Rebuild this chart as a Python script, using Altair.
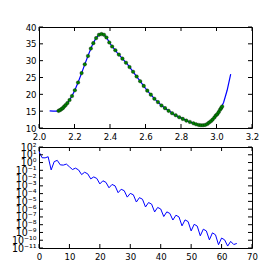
import altair as alt
import pandas as pd

# ---- top panel data ----
line_x = [2.06, 2.08, 2.10, 2.12, 2.14, 2.16, 2.18, 2.20, 2.22, 2.24, 2.26, 2.28, 2.30,
          2.32, 2.34, 2.36, 2.38, 2.40, 2.42, 2.44, 2.46, 2.48, 2.50, 2.52, 2.54, 2.56,
          2.58, 2.60, 2.62, 2.64, 2.66, 2.68, 2.70, 2.72, 2.74, 2.76, 2.78, 2.80, 2.82,
          2.84, 2.86, 2.88, 2.90, 2.92, 2.94, 2.96, 2.98, 3.00, 3.02, 3.04, 3.06, 3.08]
line_y = [15.1, 15.0, 15.0, 15.4, 16.2, 17.4, 19.0, 21.0, 23.5, 26.3, 29.2, 32.0, 34.6,
          36.6, 37.8, 37.9, 36.9, 35.1, 33.7, 32.4, 31.2, 30.0, 28.8, 27.4, 26.0, 24.6,
          23.2, 21.8, 20.5, 19.3, 18.2, 17.2, 16.3, 15.5, 14.8, 14.1, 13.5, 13.0, 12.5,
          12.0, 11.6, 11.2, 10.9, 10.8, 11.0, 11.6, 12.6, 13.9, 15.4, 17.6, 21.2, 26.0]

pts_x = [2.110, 2.118, 2.126, 2.134, 2.142, 2.150, 2.160, 2.172, 2.186, 2.202, 2.220,
         2.240, 2.258, 2.276, 2.292, 2.306, 2.322, 2.338, 2.352, 2.366, 2.380, 2.396,
         2.412, 2.430, 2.450, 2.470, 2.490, 2.510, 2.530, 2.550, 2.570, 2.590, 2.610,
         2.630, 2.650, 2.670, 2.690, 2.710, 2.730, 2.750, 2.770, 2.790, 2.810, 2.830,
         2.850, 2.870, 2.885, 2.900, 2.912, 2.924, 2.936, 2.948, 2.958, 2.968, 2.978,
         2.988, 2.996, 3.004, 3.012, 3.020, 3.026, 3.032]
pts_y = [15.1, 15.3, 15.6, 15.9, 16.4, 16.8, 17.4, 18.3, 19.5, 21.2, 23.5,
         26.3, 28.9, 31.4, 33.6, 35.2, 36.7, 37.7, 37.9, 37.7, 36.9, 35.4,
         34.2, 33.1, 31.8, 30.6, 29.4, 28.1, 26.7, 25.3, 23.9, 22.5, 21.1,
         19.9, 18.7, 17.7, 16.7, 15.9, 15.1, 14.4, 13.8, 13.2, 12.7, 12.2,
         11.8, 11.4, 11.1, 10.9, 10.8, 10.8, 10.9, 11.2, 11.6, 12.0, 12.5,
         13.1, 13.7, 14.1, 14.7, 15.4, 15.9, 16.4]

top_xticks = [2.0, 2.2, 2.4, 2.6, 2.8, 3.0, 3.2]
top_yticks = [10, 15, 20, 25, 30, 35, 40]

# ---- bottom panel data ----
coef_idx = list(range(66))
coef_log10 = [1.4, 0.62, 0.6, 0.75, -0.95, 0.12, 0.28, -0.3, -0.33, -0.2,
              -0.55, -0.9, -0.72, -0.95, -1.55, -1.25, -1.45, -2.1, -1.85, -2.05,
              -2.75, -2.35, -2.55, -3.25, -2.82, -3.0, -3.88, -3.44, -3.62, -4.45,
              -3.97, -4.15, -5.08, -4.52, -4.72, -5.72, -5.15, -5.35, -6.36, -5.78,
              -5.98, -6.95, -6.35, -6.55, -7.4, -6.78, -7.0, -8.15, -7.38, -7.6,
              -8.8, -7.95, -8.18, -9.43, -8.58, -8.8, -9.95, -9.05, -9.3, -10.58,
              -9.72, -9.95, -10.75, -10.15, -10.55, -10.42]
coef_val = [10.0 ** e for e in coef_log10]

bot_xticks = [0, 10, 20, 30, 40, 50, 60, 70]
bot_yticks = [1e-11, 1e-10, 1e-9, 1e-8, 1e-7, 1e-6, 1e-5, 1e-4, 1e-3, 1e-2, 1e-1, 1e0, 1e1, 1e2]
bot_ylabels = ['10⁻¹¹', '10⁻¹⁰', '10⁻⁹', '10⁻⁸', '10⁻⁷', '10⁻⁶', '10⁻⁵', '10⁻⁴',
               '10⁻³', '10⁻²', '10⁻¹', '10⁰', '10¹', '10²']

W, H = 213, 101
TL = 4
FONT = "DejaVu Sans Condensed, Liberation Sans Narrow, DejaVu Sans"

df_line = pd.DataFrame({"x": line_x, "y": line_y})
df_pts = pd.DataFrame({"x": pts_x, "y": pts_y})
df_tx = pd.DataFrame({"v": top_xticks})
df_ty = pd.DataFrame({"v": top_yticks})

tx_scale = alt.Scale(domain=[2.0, 3.2], nice=False, zero=False)
ty_scale = alt.Scale(domain=[10, 40], nice=False, zero=False)
tx_axis = alt.Axis(values=top_xticks, format=".1f", title="", labelFlush=False,
                   labelOverlap=False, labelBound=False)
ty_axis = alt.Axis(values=top_yticks, title="", labelFlush=False,
                   labelOverlap=False, labelBound=False)

top_line = alt.Chart(df_line).mark_line(color="#0000ff", strokeWidth=1.2).encode(
    x=alt.X("x:Q", scale=tx_scale, axis=tx_axis),
    y=alt.Y("y:Q", scale=ty_scale, axis=ty_axis),
)
top_pts = alt.Chart(df_pts).mark_point(filled=True, size=13, color="#007f00",
                                       stroke="black", strokeWidth=0.3, opacity=1).encode(
    x=alt.X("x:Q", scale=tx_scale, axis=tx_axis),
    y=alt.Y("y:Q", scale=ty_scale, axis=ty_axis),
)
t_xt_b = alt.Chart(df_tx).mark_rule(color="black").encode(
    x=alt.X("v:Q", scale=tx_scale, axis=tx_axis), y=alt.value(H - TL), y2=alt.value(H))
t_xt_t = alt.Chart(df_tx).mark_rule(color="black").encode(
    x=alt.X("v:Q", scale=tx_scale, axis=tx_axis), y=alt.value(0), y2=alt.value(TL))
t_yt_l = alt.Chart(df_ty).mark_rule(color="black").encode(
    y=alt.Y("v:Q", scale=ty_scale, axis=ty_axis), x=alt.value(0), x2=alt.value(TL))
t_yt_r = alt.Chart(df_ty).mark_rule(color="black").encode(
    y=alt.Y("v:Q", scale=ty_scale, axis=ty_axis), x=alt.value(W - TL), x2=alt.value(W))

top = alt.layer(top_line, top_pts, t_xt_b, t_xt_t, t_yt_l, t_yt_r).properties(width=W, height=H)

df_coef = pd.DataFrame({"i": coef_idx, "c": coef_val})
df_bx = pd.DataFrame({"v": bot_xticks})
df_by = pd.DataFrame({"v": bot_yticks})

bx_scale = alt.Scale(domain=[0, 70], nice=False, zero=False)
by_scale = alt.Scale(type="log", domain=[1e-11, 1e2], nice=False)
label_arr = "[" + ",".join("'" + s + "'" for s in bot_ylabels) + "]"
by_axis = alt.Axis(values=bot_yticks, title="", labelFlush=False, labelOverlap=False,
                   labelBound=False, labelFontSize=10.5,
                   labelExpr=label_arr + "[round(log(datum.value)/LN10)+11]")
bx_axis = alt.Axis(values=bot_xticks, title="", labelFlush=False, labelOverlap=False,
                   labelBound=False)

bot_line = alt.Chart(df_coef).mark_line(color="#0000ff", strokeWidth=1).encode(
    x=alt.X("i:Q", scale=bx_scale, axis=bx_axis),
    y=alt.Y("c:Q", scale=by_scale, axis=by_axis),
)
b_xt_b = alt.Chart(df_bx).mark_rule(color="black").encode(
    x=alt.X("v:Q", scale=bx_scale, axis=bx_axis), y=alt.value(H - TL), y2=alt.value(H))
b_xt_t = alt.Chart(df_bx).mark_rule(color="black").encode(
    x=alt.X("v:Q", scale=bx_scale, axis=bx_axis), y=alt.value(0), y2=alt.value(TL))
b_yt_l = alt.Chart(df_by).mark_rule(color="black").encode(
    y=alt.Y("v:Q", scale=by_scale, axis=by_axis), x=alt.value(0), x2=alt.value(TL))
b_yt_r = alt.Chart(df_by).mark_rule(color="black").encode(
    y=alt.Y("v:Q", scale=by_scale, axis=by_axis), x=alt.value(W - TL), x2=alt.value(W))

bottom = alt.layer(bot_line, b_xt_b, b_xt_t, b_yt_l, b_yt_r).properties(width=W, height=H)

chart = alt.vconcat(top, bottom, spacing=19, bounds="flush").properties(
    padding={"left": 2, "top": 13, "right": 5, "bottom": 2},
    background="white",
).configure_view(stroke="black", strokeWidth=1).configure_axis(
    grid=False, ticks=False, domain=False, labelFont=FONT, labelFontSize=9.5,
    labelColor="black", labelPadding=3
)

chart.save("out.html", embed_options={"renderer": "svg", "actions": False})
